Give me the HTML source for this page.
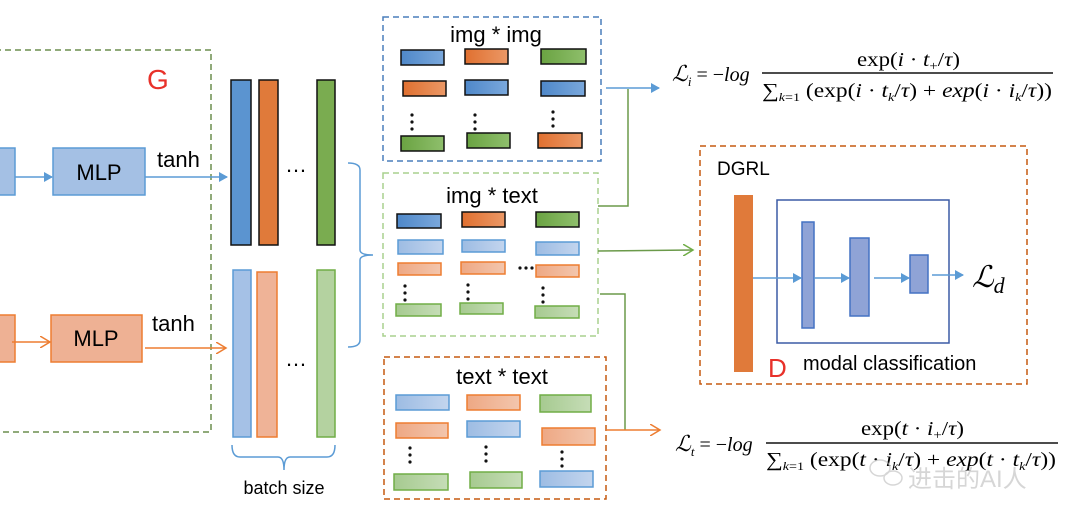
<!DOCTYPE html>
<html><head><meta charset="utf-8"><style>
body{margin:0;background:#fff}
svg{display:block}
text{font-family:"Liberation Sans",sans-serif}
.m{font-family:"Liberation Serif",serif}
.i{font-style:italic}
</style></head><body>
<svg width="1080" height="517" viewBox="0 0 1080 517">
<defs>
<marker id="ab" markerWidth="10" markerHeight="10" refX="8" refY="5" orient="auto" markerUnits="userSpaceOnUse"><path d="M0,0L9,5L0,10z" fill="#5b9bd5"/></marker>
<marker id="ao" markerWidth="12" markerHeight="12" refX="10" refY="6" orient="auto" markerUnits="userSpaceOnUse"><path d="M0,0L10,6L0,12" fill="none" stroke="#ed7d31" stroke-width="1.5"/></marker>
<marker id="ag" markerWidth="12" markerHeight="12" refX="10" refY="6" orient="auto" markerUnits="userSpaceOnUse"><path d="M0,0L10,6L0,12" fill="none" stroke="#70ad47" stroke-width="1.5"/></marker>
<linearGradient id="gb" x1="0" x2="1"><stop offset="0" stop-color="#4f88c9"/><stop offset="1" stop-color="#7aa8dc"/></linearGradient>
<linearGradient id="go" x1="0" x2="1"><stop offset="0" stop-color="#e07030"/><stop offset="1" stop-color="#eb9866"/></linearGradient>
<linearGradient id="gg" x1="0" x2="1"><stop offset="0" stop-color="#6aa342"/><stop offset="1" stop-color="#8fbf6c"/></linearGradient>
<linearGradient id="lb" x1="0" x2="1"><stop offset="0" stop-color="#9dbce3"/><stop offset="1" stop-color="#c3d5ee"/></linearGradient>
<linearGradient id="lo" x1="0" x2="1"><stop offset="0" stop-color="#eea884"/><stop offset="1" stop-color="#f3c6ad"/></linearGradient>
<linearGradient id="lg" x1="0" x2="1"><stop offset="0" stop-color="#a6ca90"/><stop offset="1" stop-color="#c6ddb7"/></linearGradient>
</defs>

<!-- G box -->
<rect x="-5" y="50" width="216" height="382" fill="none" stroke="#6b8e4e" stroke-width="1.5" stroke-dasharray="6,4"/>
<text x="147" y="89" font-size="28" fill="#e8312a">G</text>
<rect x="-5" y="148" width="20" height="47" fill="#a4c0e4" stroke="#5b9bd5" stroke-width="1.5"/>
<rect x="53" y="148" width="92" height="47" fill="#a4c0e4" stroke="#5b9bd5" stroke-width="1.5"/>
<text x="99" y="180" font-size="22" text-anchor="middle">MLP</text>
<line x1="15" y1="177" x2="52" y2="177" stroke="#5b9bd5" stroke-width="1.5" marker-end="url(#ab)"/>
<text x="157" y="167" font-size="22">tanh</text>
<line x1="145" y1="177" x2="227" y2="177" stroke="#5b9bd5" stroke-width="1.5" marker-end="url(#ab)"/>
<rect x="-5" y="315" width="20" height="47" fill="#eeb194" stroke="#ed7d31" stroke-width="1.5"/>
<rect x="51" y="315" width="91" height="47" fill="#eeb194" stroke="#ed7d31" stroke-width="1.5"/>
<text x="96" y="346" font-size="22" text-anchor="middle">MLP</text>
<line x1="12" y1="342" x2="50" y2="342" stroke="#ed7d31" stroke-width="1.5" marker-end="url(#ao)"/>
<text x="152" y="331" font-size="22">tanh</text>
<line x1="145" y1="348" x2="226" y2="348" stroke="#ed7d31" stroke-width="1.5" marker-end="url(#ao)"/>

<!-- bars -->
<rect x="231" y="80" width="20" height="165" fill="#5b94d0" stroke="#111" stroke-width="1.5"/>
<rect x="259" y="80" width="19" height="165" fill="#e07a3a" stroke="#111" stroke-width="1.5"/>
<rect x="317" y="80" width="18" height="165" fill="#7aac50" stroke="#111" stroke-width="1.5"/>
<text x="296" y="172" font-size="22" text-anchor="middle">…</text>
<rect x="233" y="270" width="18" height="167" fill="#a5c1e6" stroke="#5b9bd5" stroke-width="1.5"/>
<rect x="257" y="272" width="20" height="165" fill="#efb397" stroke="#ed7d31" stroke-width="1.5"/>
<rect x="317" y="270" width="18" height="167" fill="#b4d2a0" stroke="#70ad47" stroke-width="1.5"/>
<text x="296" y="366" font-size="22" text-anchor="middle">…</text>
<path d="M348,163 Q360,163 360,170 L360,250 Q360,255 373,255 Q360,255 360,260 L360,340 Q360,347 348,347" fill="none" stroke="#5b9bd5" stroke-width="1.5"/>
<path d="M232,445 Q232,457 240,457 L278,457 Q284,457 284,470 Q284,457 290,457 L327,457 Q335,457 335,445" fill="none" stroke="#5b9bd5" stroke-width="1.5"/>
<text x="284" y="494" font-size="18" text-anchor="middle">batch size</text>

<!-- img*img -->
<rect x="383" y="17" width="218" height="144" fill="none" stroke="#4a7ebb" stroke-width="1.5" stroke-dasharray="6,4"/>
<text x="496" y="42" font-size="22" text-anchor="middle">img * img</text>
<g stroke="#111" stroke-width="1.5">
<rect x="401" y="50" width="43" height="15" fill="url(#gb)"/><rect x="465" y="49" width="43" height="15" fill="url(#go)"/><rect x="541" y="49" width="45" height="15" fill="url(#gg)"/>
<rect x="403" y="81" width="43" height="15" fill="url(#go)"/><rect x="465" y="80" width="43" height="15" fill="url(#gb)"/><rect x="541" y="81" width="44" height="15" fill="url(#gb)"/>
<rect x="401" y="136" width="43" height="15" fill="url(#gg)"/><rect x="467" y="133" width="43" height="15" fill="url(#gg)"/><rect x="538" y="133" width="44" height="15" fill="url(#go)"/>
</g>
<g fill="#111"><circle cx="412" cy="115" r="1.6"/><circle cx="412" cy="122" r="1.6"/><circle cx="412" cy="129" r="1.6"/>
<circle cx="475" cy="115" r="1.6"/><circle cx="475" cy="122" r="1.6"/><circle cx="475" cy="129" r="1.6"/>
<circle cx="553" cy="112" r="1.6"/><circle cx="553" cy="119" r="1.6"/><circle cx="553" cy="126" r="1.6"/></g>

<!-- img*text -->
<rect x="383" y="173" width="215" height="163" fill="none" stroke="#a9d18e" stroke-width="1.5" stroke-dasharray="6,4"/>
<text x="492" y="203" font-size="22" text-anchor="middle">img * text</text>
<g stroke="#111" stroke-width="1.5">
<rect x="397" y="214" width="44" height="14" fill="url(#gb)"/><rect x="462" y="212" width="43" height="15" fill="url(#go)"/><rect x="536" y="212" width="43" height="15" fill="url(#gg)"/>
</g>
<g stroke-width="1.5">
<rect x="398" y="240" width="45" height="14" fill="url(#lb)" stroke="#5b9bd5"/><rect x="462" y="240" width="43" height="12" fill="url(#lb)" stroke="#5b9bd5"/><rect x="536" y="242" width="43" height="13" fill="url(#lb)" stroke="#5b9bd5"/>
<rect x="398" y="263" width="43" height="12" fill="url(#lo)" stroke="#ed7d31"/><rect x="461" y="262" width="44" height="12" fill="url(#lo)" stroke="#ed7d31"/><rect x="536" y="265" width="43" height="12" fill="url(#lo)" stroke="#ed7d31"/>
<rect x="396" y="304" width="45" height="12" fill="url(#lg)" stroke="#70ad47"/><rect x="460" y="303" width="43" height="11" fill="url(#lg)" stroke="#70ad47"/><rect x="535" y="306" width="44" height="12" fill="url(#lg)" stroke="#70ad47"/>
</g>
<g fill="#111"><circle cx="405" cy="286" r="1.6"/><circle cx="405" cy="293" r="1.6"/><circle cx="405" cy="300" r="1.6"/>
<circle cx="468" cy="285" r="1.6"/><circle cx="468" cy="292" r="1.6"/><circle cx="468" cy="299" r="1.6"/>
<circle cx="543" cy="288" r="1.6"/><circle cx="543" cy="295" r="1.6"/><circle cx="543" cy="302" r="1.6"/>
<circle cx="520" cy="268" r="1.6"/><circle cx="526" cy="268" r="1.6"/><circle cx="532" cy="268" r="1.6"/></g>

<!-- text*text -->
<rect x="384" y="357" width="222" height="142" fill="none" stroke="#c55a11" stroke-width="1.5" stroke-dasharray="6,4"/>
<text x="502" y="384" font-size="22" text-anchor="middle">text * text</text>
<g stroke-width="1.5">
<rect x="396" y="395" width="53" height="15" fill="url(#lb)" stroke="#5b9bd5"/><rect x="467" y="395" width="53" height="15" fill="url(#lo)" stroke="#ed7d31"/><rect x="540" y="395" width="51" height="17" fill="url(#lg)" stroke="#70ad47"/>
<rect x="396" y="423" width="52" height="15" fill="url(#lo)" stroke="#ed7d31"/><rect x="467" y="421" width="53" height="16" fill="url(#lb)" stroke="#5b9bd5"/><rect x="542" y="428" width="53" height="17" fill="url(#lo)" stroke="#ed7d31"/>
<rect x="394" y="474" width="54" height="16" fill="url(#lg)" stroke="#70ad47"/><rect x="470" y="472" width="52" height="16" fill="url(#lg)" stroke="#70ad47"/><rect x="540" y="471" width="53" height="16" fill="url(#lb)" stroke="#5b9bd5"/>
</g>
<g fill="#111"><circle cx="410" cy="448" r="1.6"/><circle cx="410" cy="455" r="1.6"/><circle cx="410" cy="462" r="1.6"/>
<circle cx="486" cy="447" r="1.6"/><circle cx="486" cy="454" r="1.6"/><circle cx="486" cy="461" r="1.6"/>
<circle cx="562" cy="452" r="1.6"/><circle cx="562" cy="459" r="1.6"/><circle cx="562" cy="466" r="1.6"/></g>

<!-- connectors -->
<line x1="606" y1="88" x2="659" y2="88" stroke="#5b9bd5" stroke-width="1.5" marker-end="url(#ab)"/>
<polyline points="598,206 628,206 628,89" fill="none" stroke="#6b9a4a" stroke-width="1.5"/>
<line x1="598" y1="251" x2="693" y2="250" stroke="#6b9a4a" stroke-width="1.5" marker-end="url(#ag)"/>
<polyline points="600,294 625,294 625,430" fill="none" stroke="#6b9a4a" stroke-width="1.5"/>
<line x1="606" y1="430" x2="660" y2="430" stroke="#ed7d31" stroke-width="1.5" marker-end="url(#ao)"/>

<!-- formulas -->
<g class="m" font-size="20">
<text x="672" y="81" class="m"><tspan class="i" font-size="22">ℒ</tspan><tspan class="i" font-size="13" dy="5">i</tspan><tspan dy="-5"> = −</tspan><tspan class="i">log</tspan></text>
<text x="857" y="66" class="m" textLength="103" lengthAdjust="spacingAndGlyphs">exp(<tspan class="i">i</tspan> · <tspan class="i">t</tspan><tspan font-size="13" dy="4">+</tspan><tspan dy="-4">/</tspan><tspan class="i">τ</tspan>)</text>
<text x="762" y="97" class="m" textLength="290" lengthAdjust="spacingAndGlyphs">∑<tspan class="i" font-size="12" dy="4">k</tspan><tspan font-size="12">=1</tspan><tspan dy="-4"> (exp(</tspan><tspan class="i">i</tspan> · <tspan class="i">t</tspan><tspan class="i" font-size="12" dy="4">k</tspan><tspan dy="-4">/</tspan><tspan class="i">τ</tspan>) + <tspan class="i">exp</tspan>(<tspan class="i">i</tspan> · <tspan class="i">i</tspan><tspan class="i" font-size="12" dy="4">k</tspan><tspan dy="-4">/</tspan><tspan class="i">τ</tspan>))</text>
<text x="675" y="451" class="m"><tspan class="i" font-size="22">ℒ</tspan><tspan class="i" font-size="13" dy="5">t</tspan><tspan dy="-5"> = −</tspan><tspan class="i">log</tspan></text>
<text x="861" y="435" class="m" textLength="103" lengthAdjust="spacingAndGlyphs">exp(<tspan class="i">t</tspan> · <tspan class="i">i</tspan><tspan font-size="13" dy="4">+</tspan><tspan dy="-4">/</tspan><tspan class="i">τ</tspan>)</text>
<text x="766" y="466" class="m" textLength="290" lengthAdjust="spacingAndGlyphs">∑<tspan class="i" font-size="12" dy="4">k</tspan><tspan font-size="12">=1</tspan><tspan dy="-4"> (exp(</tspan><tspan class="i">t</tspan> · <tspan class="i">i</tspan><tspan class="i" font-size="12" dy="4">k</tspan><tspan dy="-4">/</tspan><tspan class="i">τ</tspan>) + <tspan class="i">exp</tspan>(<tspan class="i">t</tspan> · <tspan class="i">t</tspan><tspan class="i" font-size="12" dy="4">k</tspan><tspan dy="-4">/</tspan><tspan class="i">τ</tspan>))</text>
</g>
<line x1="762" y1="73" x2="1053" y2="73" stroke="#111" stroke-width="1.5"/>
<line x1="766" y1="443" x2="1058" y2="443" stroke="#111" stroke-width="1.5"/>
<g opacity="0.6" fill="none" stroke="#bbb" stroke-width="1.5"><ellipse cx="880" cy="468" rx="10" ry="8"/><ellipse cx="893" cy="478" rx="9" ry="7"/></g>
<text x="908" y="487" font-size="24" fill="#ccc" font-family="Noto Sans CJK SC,sans-serif" opacity="0.8">进击的AI人</text>

<!-- DGRL -->
<rect x="700" y="146" width="327" height="238" fill="none" stroke="#c55a11" stroke-width="1.5" stroke-dasharray="6,4"/>
<text x="717" y="175" font-size="19">DGRL</text>
<rect x="734" y="195" width="19" height="177" fill="#e07a3a"/>
<rect x="777" y="200" width="172" height="143" fill="none" stroke="#3b5ba5" stroke-width="1.5"/>
<rect x="802" y="222" width="12" height="106" fill="#8fa3d6" stroke="#4472c4" stroke-width="1.5"/>
<rect x="850" y="238" width="19" height="78" fill="#8fa3d6" stroke="#4472c4" stroke-width="1.5"/>
<rect x="910" y="255" width="18" height="38" fill="#8fa3d6" stroke="#4472c4" stroke-width="1.5"/>
<line x1="753" y1="278" x2="801" y2="278" stroke="#5b9bd5" stroke-width="1.5" marker-end="url(#ab)"/>
<line x1="814" y1="278" x2="849" y2="278" stroke="#5b9bd5" stroke-width="1.5" marker-end="url(#ab)"/>
<line x1="874" y1="278" x2="909" y2="278" stroke="#5b9bd5" stroke-width="1.5" marker-end="url(#ab)"/>
<line x1="932" y1="275" x2="963" y2="275" stroke="#5b9bd5" stroke-width="1.5" marker-end="url(#ab)"/>
<text x="972" y="287" class="m i" font-size="30">ℒ<tspan font-size="22" dy="6">d</tspan></text>
<text x="768" y="377" font-size="26" fill="#e8312a">D</text>
<text x="803" y="370" font-size="20">modal classification</text>
</svg>
</body></html>
